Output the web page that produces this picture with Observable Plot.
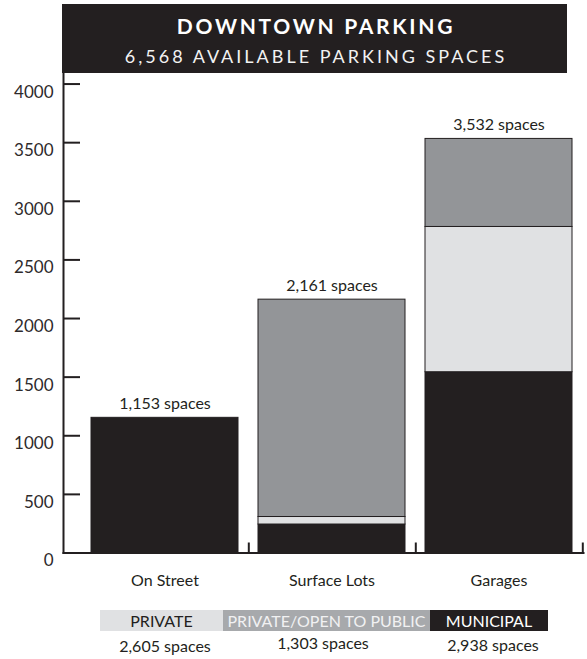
<!DOCTYPE html>
<html>
<head>
<meta charset="utf-8">
<script src="https://cdn.jsdelivr.net/npm/d3@7"></script>
<script src="https://cdn.jsdelivr.net/npm/@observablehq/plot@0.6"></script>
<style>
  body { margin: 0; background: #fff; font-family: Lato, "Open Sans", sans-serif; color: #231f20; }
  #wrap { position: relative; width: 587px; height: 659px; overflow: hidden; }
  #wrap svg { position: absolute; left: 0; top: 0; }
  .abs { position: absolute; white-space: nowrap; }
</style>
</head>
<body>
<div id="wrap"></div>
<script>
// ---- data ----
const titleText = "DOWNTOWN PARKING";
const subtitleText = "6,568 AVAILABLE PARKING SPACES";
const categories = ["On Street", "Surface Lots", "Garages"];
const segments = ["Municipal", "Private/Open to Public", "Private"];
const municipal = [1153, 243, 1542];
const privateOpen = [0, 64, 1239];
const privateOnly = [0, 1854, 751];
const yTicks = [0, 500, 1000, 1500, 2000, 2500, 3000, 3500, 4000];
const legendLabels = ["PRIVATE", "PRIVATE/OPEN TO PUBLIC", "MUNICIPAL"];
const legendCounts = [2605, 1303, 2938];

// ---- build table ----
const seriesValues = [municipal, privateOpen, privateOnly];
const rows = [];
categories.forEach((c, i) => {
  segments.forEach((s, j) => {
    const v = seriesValues[j][i];
    if (v > 0) rows.push({category: c, segment: s, value: v});
  });
});
const totals = categories.map((c, i) => ({
  category: c,
  total: d3.sum(seriesValues, arr => arr[i])
}));
const fmt = d3.format(",");

const ink = "#231f20";
const chart = Plot.plot({
  width: 587,
  height: 659,
  marginTop: 73,
  marginBottom: 106.5,
  marginLeft: 63,
  marginRight: 4,
  style: {fontFamily: "Lato, sans-serif", fontSize: "16px", color: ink, background: "transparent"},
  x: {domain: categories, range: [80, 583], paddingInner: 0.12, paddingOuter: 0.06, label: null},
  y: {domain: [0, 4090], label: null},
  color: {domain: segments, range: [ink, "#e0e1e3", "#939598"]},
  marks: [
    Plot.barY(rows, {x: "category", y: "value", fill: "segment", stroke: ink, strokeWidth: 1}),
    Plot.text(totals, {x: "category", y: "total", text: d => `${fmt(d.total)} spaces`, dy: -9, lineAnchor: "bottom", fontSize: 16, fill: ink}),
    Plot.frame({anchor: "left", stroke: ink, strokeWidth: 2}),
    Plot.frame({anchor: "bottom", stroke: ink, strokeWidth: 2}),
    Plot.axisY({ticks: yTicks, tickSize: 17, dx: 17, text: null, stroke: ink, strokeWidth: 2}),
    Plot.axisY({ticks: yTicks, tickSize: 0, tickPadding: 10, dy: 8, tickFormat: d => String(d), fontSize: 17, fill: "#2e2a2b"}),
    Plot.axisX({tickSize: 0, tickPadding: 22, fontSize: 16, fill: ink}),
    Plot.axisX({text: null, tickSize: 10, dx: 83.8, dy: -10, stroke: ink, strokeWidth: 2})
  ]
});
const wrap = document.getElementById("wrap");
wrap.appendChild(chart);

// ---- title block ----
const tb = document.createElement("div");
tb.className = "abs";
Object.assign(tb.style, {left: "62px", top: "4px", width: "505px", height: "69px", background: ink});
wrap.appendChild(tb);
const t1 = document.createElement("div");
t1.className = "abs";
t1.textContent = titleText;
Object.assign(t1.style, {left: "0", width: "505px", top: "11px", textAlign: "center", fontSize: "21px", lineHeight: "21px", fontWeight: "700", letterSpacing: "2.7px", color: "#fff", paddingLeft: "3px", boxSizing: "border-box"});
tb.appendChild(t1);
const t2 = document.createElement("div");
t2.className = "abs";
t2.textContent = subtitleText;
Object.assign(t2.style, {left: "0", width: "505px", top: "43px", textAlign: "center", fontSize: "18px", lineHeight: "18px", fontWeight: "400", letterSpacing: "3px", color: "#f2f2f2", paddingLeft: "3px", boxSizing: "border-box"});
tb.appendChild(t2);

// ---- legend ----
const legendBoxes = [
  {left: 100, width: 123, bg: "#e0e1e3", color: ink},
  {left: 223, width: 207, bg: "#a7a9ac", color: "#f1f1f2"},
  {left: 430, width: 118, bg: ink, color: "#ffffff"}
];
const countPos = [{cx: 165, top: 636}, {cx: 323, top: 633}, {cx: 493, top: 635}];
legendLabels.forEach((lab, i) => {
  const b = legendBoxes[i];
  const d = document.createElement("div");
  d.className = "abs";
  d.textContent = lab;
  Object.assign(d.style, {left: b.left + "px", width: b.width + "px", top: "610px", height: "21px", lineHeight: "21px", fontSize: "16px", textAlign: "center", background: b.bg, color: b.color});
  wrap.appendChild(d);
  const c = document.createElement("div");
  c.className = "abs";
  c.textContent = `${fmt(legendCounts[i])} spaces`;
  Object.assign(c.style, {left: (countPos[i].cx - 80) + "px", width: "160px", top: countPos[i].top + "px", lineHeight: "20px", fontSize: "16px", textAlign: "center", color: ink});
  wrap.appendChild(c);
});
</script>
</body>
</html>
